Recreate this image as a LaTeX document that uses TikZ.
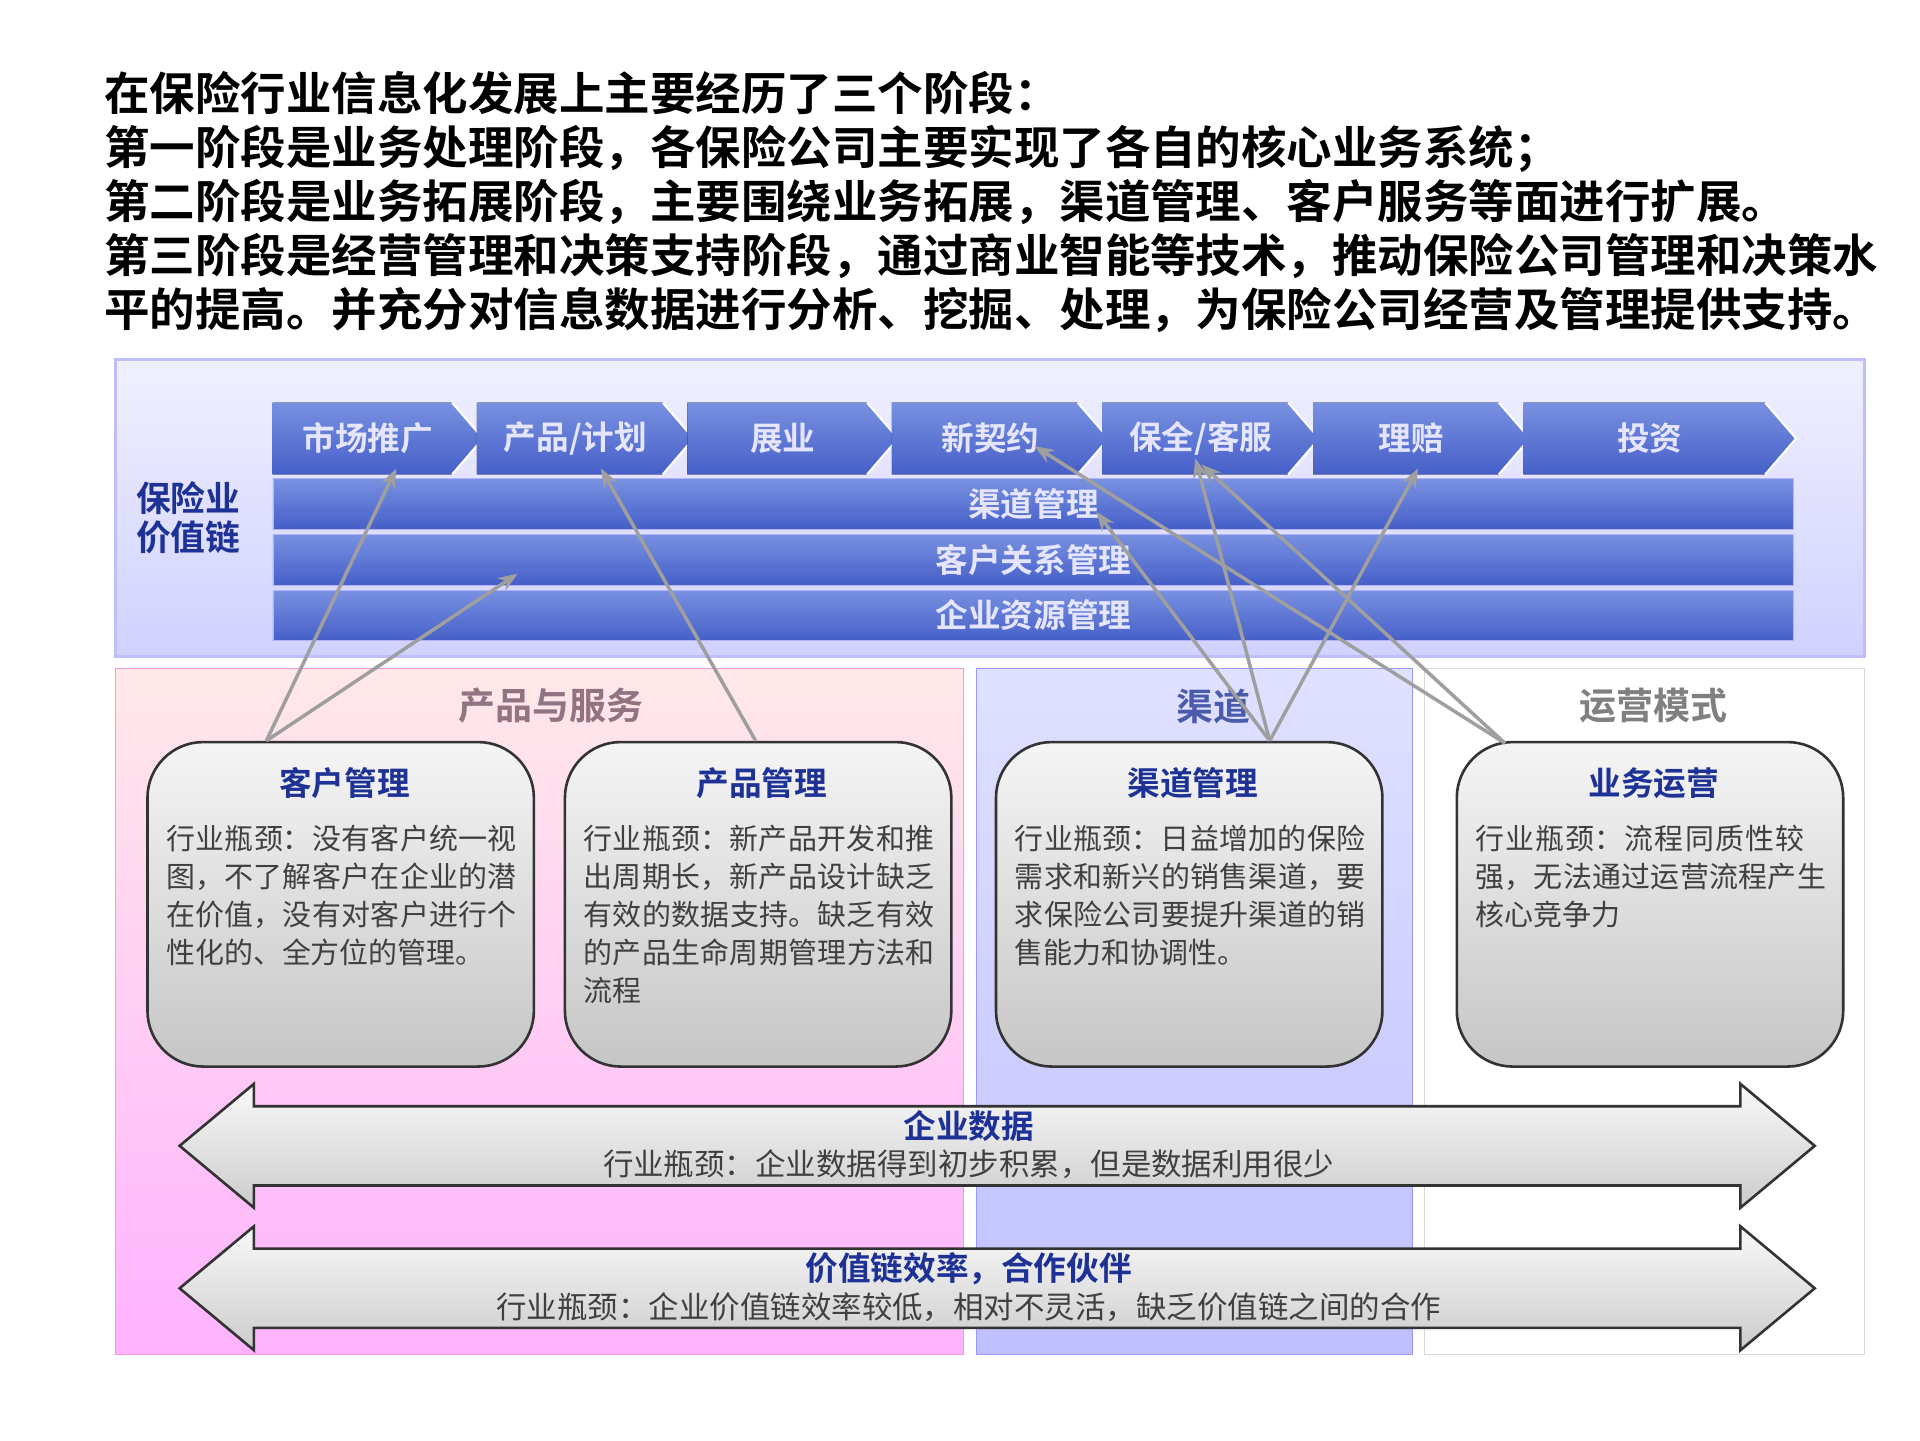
\documentclass[tikz,border=0pt]{standalone}
\usepackage{fontspec}
\setmainfont{Noto Sans CJK SC}
\newfontfamily\cjkb{Noto Sans CJK SC Bold}
\XeTeXlinebreaklocale "zh"
\XeTeXlinebreakskip=0pt plus 1pt
\usetikzlibrary{arrows.meta}
\definecolor{bandT}{RGB}{120,145,225}
\definecolor{bandB}{RGB}{70,95,200}
\definecolor{hblue}{RGB}{30,50,150}
\begin{document}
\begin{tikzpicture}[x=0.02cm,y=-0.02cm,
 ttl/.style={anchor=west,font=\fontsize{20.9}{24}\selectfont\cjkb},
 band/.style={draw=white!70!blue,top color=bandT,bottom color=bandB,minimum height=0.82cm,minimum width=24.56cm,anchor=north west,inner sep=0pt,font=\fontsize{15}{16}\selectfont\cjkb,text=white!90!blue},
 box/.style={draw=gray!40!black,line width=1.2pt,rounded corners=0.9cm,top color=gray!8,bottom color=gray!45,minimum width=6.24cm,minimum height=5.24cm,anchor=north west},
 btxt/.style={anchor=north west,align=left,text width=5.8cm,font=\fontsize{13.3}{17.4}\selectfont,text=gray!50!black},
 bhd/.style={font=\fontsize{15}{16}\selectfont\cjkb,text=hblue},
 con/.style={draw=gray!75,line width=1.6pt,-{Stealth[length=9pt]}},
 dbl/.style={draw=black!80,line width=1.2pt,top color=gray!5,bottom color=gray!40}]
\useasboundingbox (0,0) rectangle (1550,1162.5);
\fill[white] (0,0) rectangle (1550,1162.5);
\node[ttl] (t1) at (78,75) {在保险行业信息化发展上主要经历了三个阶段：};
\node[ttl] (t2) at (78,120) {第一阶段是业务处理阶段，各保险公司主要实现了各自的核心业务系统；};
\node[ttl] (t3) at (78,163) {第二阶段是业务拓展阶段，主要围绕业务拓展，渠道管理、客户服务等面进行扩展。};
\node[ttl] (t4) at (78,207) {第三阶段是经营管理和决策支持阶段，通过商业智能等技术，推动保险公司管理和决策水};
\node[ttl] (t5) at (78,250) {平的提高。并充分对信息数据进行分析、挖掘、处理，为保险公司经营及管理提供支持。};
% top panel
\draw[draw=blue!25,line width=1.5pt,top color=blue!6,bottom color=blue!18] (93,290) rectangle (1505,530);
\node[bhd,align=left,font=\fontsize{16}{18}\selectfont\cjkb] (vl) at (152,418) {保险业\\价值链};
\foreach \a/\b/\t [count=\i] in {220/390/市场推广,385/560/{产品/计划},555/725/展业,720/895/新契约,890/1065/{保全/客服},1060/1235/理赔,1230/1450/投资}{
 \fill[top color=bandT,bottom color=bandB] (\a,325) -- (\b-25,325) -- (\b,354) -- (\b-25,383) -- (\a,383) -- cycle;
 \draw[white,line width=1pt] (\b-25,325) -- (\b,354) -- (\b-25,383);
 \node[font=\fontsize{15}{16}\selectfont\cjkb,text=white!90!blue] (c\i) at ({(\a+\b)/2-8},354) {\t};
}
\node[band] (b1) at (220,386) {渠道管理};
\node[band] (b2) at (220,431) {客户关系管理};
\node[band] (b3) at (220,476) {企业资源管理};
% lower regions
\fill[top color=pink!35,bottom color=magenta!30] (93,540) rectangle (778,1093);
\draw[magenta!40] (93,540) rectangle (778,1093);
\fill[top color=blue!12,bottom color=blue!25] (788,540) rectangle (1140,1093);
\draw[blue!40] (788,540) rectangle (1140,1093);
\draw[gray!30] (1150,540) rectangle (1505,1093);
\node[font=\fontsize{17}{18}\selectfont\cjkb,text=magenta!30!black!70] (h1) at (445,570) {产品与服务};
\node[font=\fontsize{17}{18}\selectfont\cjkb,text=hblue!80] (h2) at (980,570) {渠道};
\node[font=\fontsize{17}{18}\selectfont\cjkb,text=gray] (h3) at (1335,570) {运营模式};
% boxes
\foreach \n/\x/\h/\t in {k/118/客户管理/{行业瓶颈：没有客户统一视图，不了解客户在企业的潜在价值，没有对客户进行个性化的、全方位的管理。},p/455/产品管理/{行业瓶颈：新产品开发和推出周期长，新产品设计缺乏有效的数据支持。缺乏有效的产品生命周期管理方法和流程},q/803/渠道管理/{行业瓶颈：日益增加的保险需求和新兴的销售渠道，要求保险公司要提升渠道的销售能力和协调性。},y/1175/业务运营/{行业瓶颈：流程同质性较强，无法通过运营流程产生核心竞争力}}{
 \node[box] (\n) at (\x,598) {};
 \node[bhd] (\n h) at (\x+160,632) {\h};
 \node[btxt] (\n t) at (\x+10,660) {\t};
}
% double arrows
\foreach \n/\yc/\h/\t in {d1/925/企业数据/{行业瓶颈：企业数据得到初步积累，但是数据利用很少},d2/1040/{价值链效率，合作伙伴}/{行业瓶颈：企业价值链效率较低，相对不灵活，缺乏价值链之间的合作}}{
 \draw[dbl] (145,\yc) -- (205,\yc-50) -- (205,\yc-32) -- (1405,\yc-32) -- (1405,\yc-50) -- (1465,\yc) -- (1405,\yc+50) -- (1405,\yc+32) -- (205,\yc+32) -- (205,\yc+50) -- cycle;
 \node[bhd] (\n h) at (782,\yc-16) {\h};
 \node[font=\fontsize{14}{16}\selectfont,text=gray!50!black] (\n t) at (782,\yc+15) {\t};
}
% connectors
\coordinate (ka) at (215,598); \coordinate (pa) at (610,598);
\coordinate (qa) at (1025,598); \coordinate (ya) at (1215,600);
\coordinate (e1) at (320,378); \coordinate (e2) at (418,463);
\coordinate (e3) at (485,378); \coordinate (e4) at (965,370);
\coordinate (e5) at (885,413); \coordinate (e6) at (835,360);
\coordinate (e7) at (970,375); \coordinate (e8) at (1145,378);
\draw[con] (ka) -- (e1); \draw[con] (ka) -- (e2);
\draw[con] (pa) -- (e3);
\draw[con] (qa) -- (e4); \draw[con] (qa) -- (e5); \draw[con] (qa) -- (e8);
\draw[con] (ya) -- (e6); \draw[con] (ya) -- (e7);
\end{tikzpicture}
\end{document}
